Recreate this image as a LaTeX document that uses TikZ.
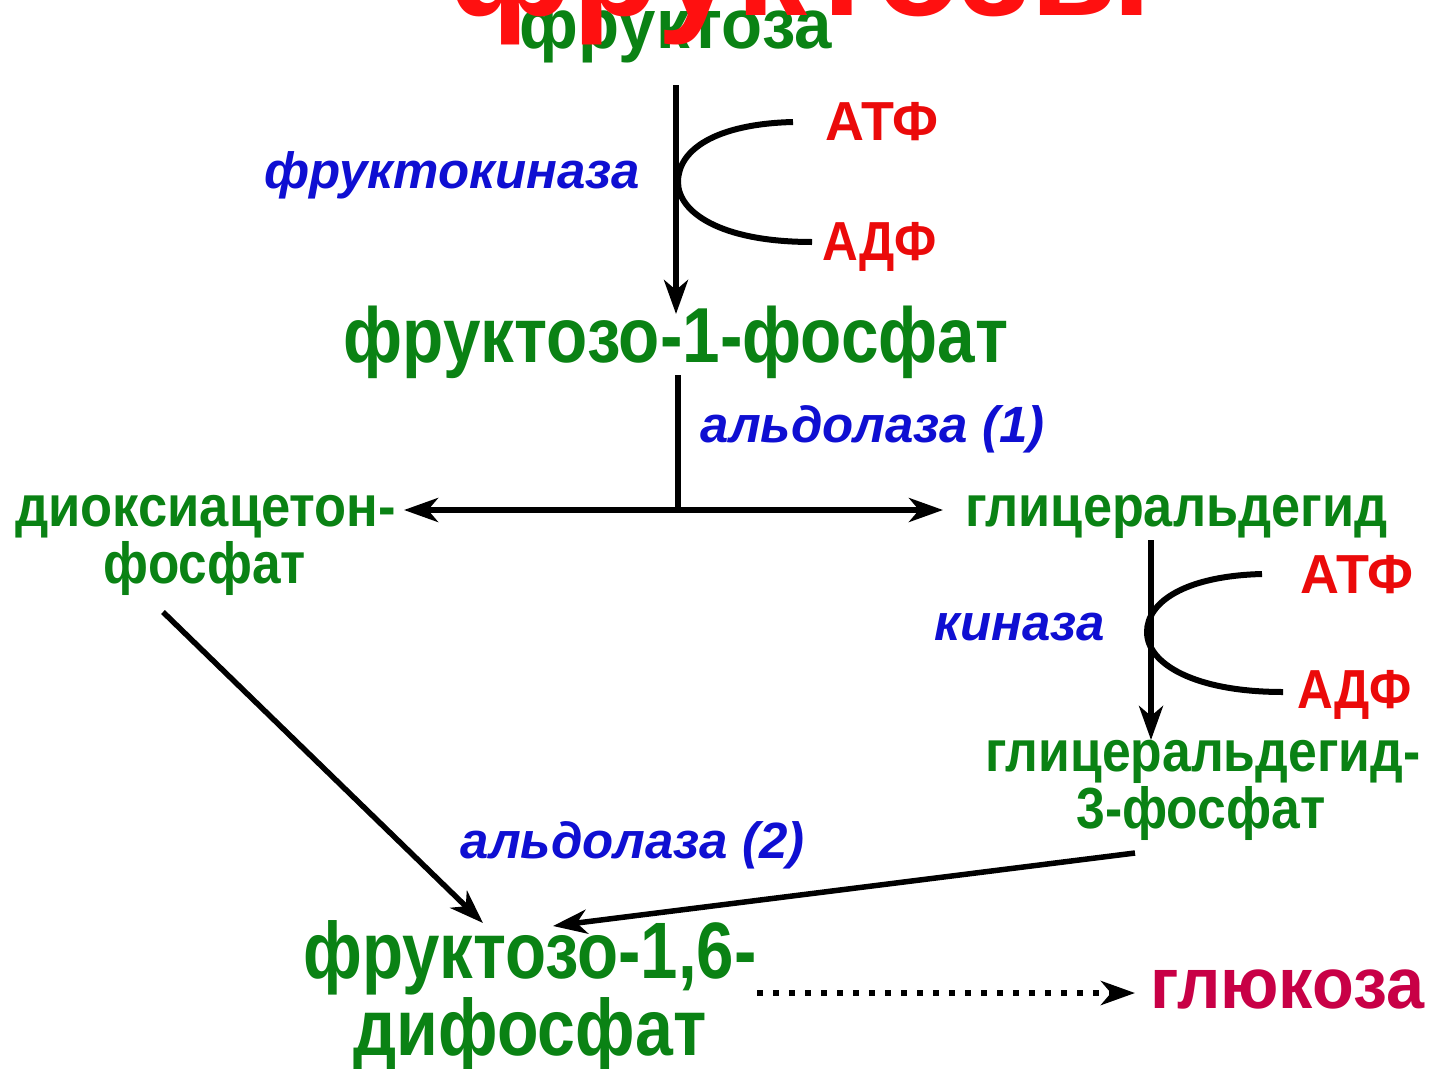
\documentclass[tikz,border=0pt]{standalone}
\usepackage{graphicx}
\usepackage{fontspec}
\setmainfont{Liberation Sans}
\usetikzlibrary{arrows.meta}
\definecolor{grn}{RGB}{10,130,20}
\definecolor{blu}{RGB}{15,15,210}
\definecolor{rd}{RGB}{235,10,10}
\definecolor{ttl}{RGB}{255,16,16}
\definecolor{glc}{RGB}{200,0,70}
\newcommand{\fs}[1]{\fontsize{#1}{#1}\selectfont}
\newcommand{\hsq}[2]{\scalebox{#1}[1]{#2}}
\begin{document}
\begin{tikzpicture}[x=1pt,y=-1pt,
  lbl/.style={inner sep=0pt,anchor=base},
  prod/.style={lbl,text=grn,font=\bfseries},
  enz/.style={lbl,text=blu,font=\bfseries\itshape},
  cof/.style={lbl,text=rd,font=\bfseries},
  tip/.tip={Stealth[length=34pt,width=24pt,inset=10pt]},
  conn/.style={line width=5.5pt,-tip},
  plain/.style={line width=5.5pt},
  arc/.style={line width=6pt}]
\useasboundingbox (0,0) rectangle (1437,1068);
\fill[white] (0,0) rectangle (1437,1068);
% substrates / products
\node[prod,font=\bfseries\fs{70}] (fru) at (676,48) {\hsq{0.96}{фруктоза}};
\node[prod,font=\bfseries\fs{78}] (f1p) at (676,362) {\hsq{0.865}{фруктозо-1-фосфат}};
\node[prod,font=\bfseries\fs{58},anchor=base west] (dhap1) at (15,526) {\hsq{0.905}{диоксиацетон-}};
\node[prod,font=\bfseries\fs{58}] (dhap2) at (205,583) {\hsq{0.885}{фосфат}};
\node[prod,font=\bfseries\fs{58},anchor=base west] (gal) at (965,526) {\hsq{0.9}{глицеральдегид}};
\node[prod,font=\bfseries\fs{58}] (g3p1) at (1203,771) {\hsq{0.89}{глицеральдегид-}};
\node[prod,font=\bfseries\fs{58}] (g3p2) at (1201,828) {\hsq{0.89}{3-фосфат}};
\node[prod,font=\bfseries\fs{80}] (fbp1) at (530,978) {\hsq{0.84}{фруктозо-1,6-}};
\node[prod,font=\bfseries\fs{80}] (fbp2) at (530,1055) {\hsq{0.85}{дифосфат}};
\node[lbl,text=glc,font=\bfseries\fs{72},anchor=base west] (glu) at (1150,1008) {\hsq{0.95}{глюкоза}};
% enzymes
\node[enz,font=\bfseries\itshape\fs{51},anchor=base east] (e1) at (640,188) {фруктокиназа};
\node[enz,font=\bfseries\itshape\fs{51},anchor=base west] (e2) at (700,442) {альдолаза (1)};
\node[enz,font=\bfseries\itshape\fs{51},anchor=base east] (e3) at (1105,640) {киназа};
\node[enz,font=\bfseries\itshape\fs{51},anchor=base west] (e4) at (460,858) {альдолаза (2)};
% cofactors
\node[cof,font=\bfseries\fs{55},anchor=base west] (atp1) at (825,140) {\hsq{0.98}{АТФ}};
\node[cof,font=\bfseries\fs{55},anchor=base west] (adp1) at (822,260) {\hsq{0.9}{АДФ}};
\node[cof,font=\bfseries\fs{55},anchor=base west] (atp2) at (1300,593) {\hsq{0.98}{АТФ}};
\node[cof,font=\bfseries\fs{55},anchor=base west] (adp2) at (1297,708) {\hsq{0.9}{АДФ}};
% title (overlapping, cut off)
\node[lbl,text=ttl,font=\bfseries\fs{142}] (title) at (800,16) {фруктозы};
% connector coordinates
\coordinate (a1s) at (676,85);
\coordinate (a1e) at (676,314);
\coordinate (c1a) at (793,122);
\coordinate (c1v) at (678,182);
\coordinate (c1b) at (812,242);
\coordinate (s1) at (678,375);
\coordinate (j1) at (678,510);
\coordinate (lt) at (404,510);
\coordinate (rt) at (943,510);
\coordinate (a2s) at (1151,540);
\coordinate (a2e) at (1151,740);
\coordinate (c2a) at (1262,574);
\coordinate (c2v) at (1147,632);
\coordinate (c2b) at (1283,692);
\coordinate (d1s) at (163,612);
\coordinate (d1e) at (483,923);
\coordinate (d2s) at (1135,853);
\coordinate (d2e) at (553,926);
\coordinate (gls) at (757,993);
\coordinate (gle) at (1135,993);
% connectors
\draw[conn] (a1s) -- (a1e);
\draw[arc] (c1a) .. controls (715,124) and (678,150) .. (c1v) .. controls (678,212) and (720,242) .. (c1b);
\draw[plain] (s1) -- (j1);
\draw[conn] (j1) -- (lt);
\draw[conn] (j1) -- (rt);
\draw[conn] (a2s) -- (a2e);
\draw[arc] (c2a) .. controls (1185,576) and (1147,602) .. (c2v) .. controls (1147,664) and (1195,692) .. (c2b);
\draw[conn] (d1s) -- (d1e);
\draw[conn] (d2s) -- (d2e);
\draw[line width=6pt,dash pattern=on 6pt off 10pt,-tip] (gls) -- (gle);
\end{tikzpicture}
\end{document}
